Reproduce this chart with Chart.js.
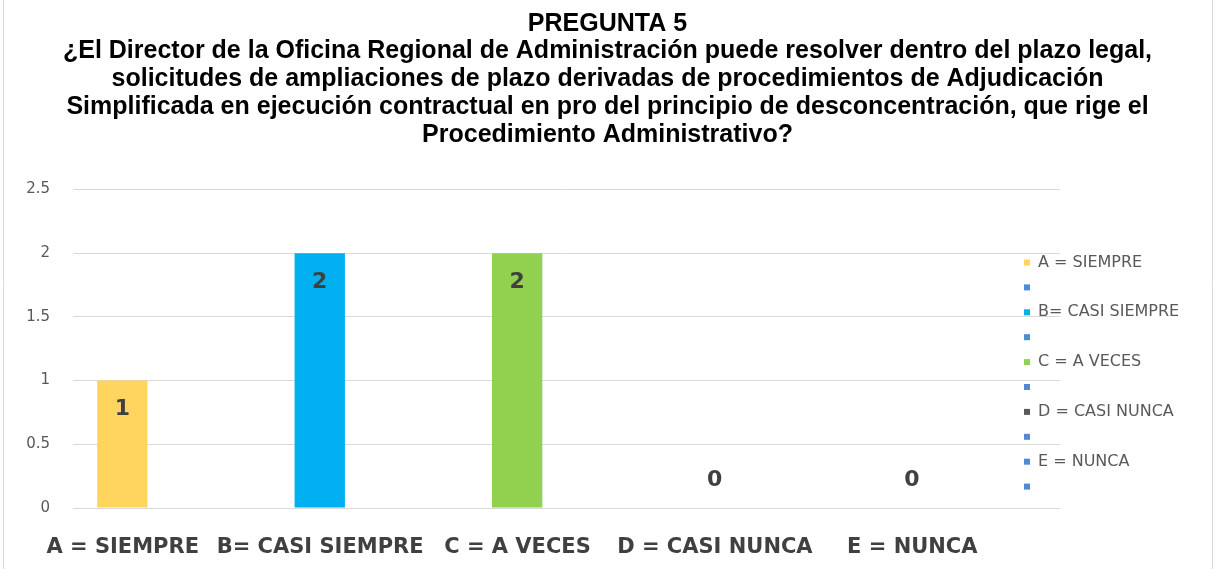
<!DOCTYPE html>
<html><head><meta charset="utf-8">
<script src="https://cdn.jsdelivr.net/npm/chart.js@4.4.1/dist/chart.umd.min.js"></script>
<style>html,body{margin:0;padding:0;background:#fff;} #wrap{width:1215px;height:569px;position:relative;}</style>
</head><body><div id="wrap"><canvas id="c" width="1215" height="569"></canvas></div>
<script>
const titleLines = [
  'PREGUNTA 5',
  '¿El Director de la Oficina Regional de Administración puede resolver dentro del plazo legal,',
  'solicitudes de ampliaciones de plazo derivadas de procedimientos de Adjudicación',
  'Simplificada en ejecución contractual en pro del principio de desconcentración, que rige el',
  'Procedimiento Administrativo?'
];
const categories = ['A = SIEMPRE', 'B= CASI SIEMPRE', 'C = A VECES', 'D = CASI NUNCA', 'E = NUNCA'];
const values = [1, 2, 2, 0, 0];
const blankValues = [null, null, null, null, null];
const yTicks = [0, 0.5, 1, 1.5, 2, 2.5];
const barColors = ['#FFD45F', '#00B0F0', '#92D050', '#595959', '#4F8AD2'];
const blankColor = '#4F8AD2';

const frame = {
  id: 'frame',
  beforeDraw(chart) {
    const ctx = chart.ctx;
    ctx.save();
    ctx.fillStyle = '#ffffff';
    ctx.fillRect(0, 0, chart.width, chart.height);
    ctx.strokeStyle = '#d9d9d9';
    ctx.lineWidth = 1;
    ctx.beginPath();
    ctx.moveTo(3.5, 0); ctx.lineTo(3.5, chart.height);
    ctx.moveTo(chart.width - 2.5, 0); ctx.lineTo(chart.width - 2.5, chart.height);
    ctx.stroke();
    ctx.restore();
  }
};

const valueLabels = {
  id: 'valueLabels',
  afterDatasetsDraw(chart) {
    const meta = chart.getDatasetMeta(0);
    const ctx = chart.ctx;
    ctx.save();
    ctx.font = 'bold 22px "DejaVu Sans"';
    ctx.fillStyle = '#404040';
    ctx.textAlign = 'center';
    ctx.textBaseline = 'middle';
    meta.data.forEach((el, i) => {
      const v = values[i];
      const y = v > 0 ? el.y + 29 : el.y - 28;
      ctx.fillText(String(v), el.x, y);
    });
    ctx.restore();
  }
};

const sideLegend = {
  id: 'sideLegend',
  afterDraw(chart) {
    const ctx = chart.ctx;
    const items = [];
    categories.forEach((c, i) => {
      items.push({ text: c, color: barColors[i] });
      items.push({ text: '', color: blankColor });
    });
    const x0 = chart.chartArea.right - 36;
    const y0 = chart.chartArea.top + 73;
    const step = 24.9;
    ctx.save();
    ctx.font = '16px "DejaVu Sans"';
    ctx.textBaseline = 'middle';
    ctx.textAlign = 'left';
    items.forEach((it, k) => {
      const y = y0 + k * step;
      ctx.fillStyle = it.color;
      ctx.fillRect(x0, y - 3, 6, 6);
      ctx.fillStyle = '#595959';
      ctx.fillText(it.text, x0 + 14, y);
    });
    ctx.restore();
  }
};

new Chart(document.getElementById('c'), {
  type: 'bar',
  data: {
    labels: categories,
    datasets: [
      { label: 'valores', data: values, backgroundColor: barColors, categoryPercentage: 1, barPercentage: 0.51 },
      { label: '', data: blankValues, backgroundColor: blankColor, categoryPercentage: 1, barPercentage: 0.51 }
    ]
  },
  options: {
    responsive: false,
    animation: false,
    devicePixelRatio: 1,
    layout: { padding: 0 },
    plugins: {
      legend: { display: false },
      tooltip: { enabled: false },
      title: {
        display: true,
        text: titleLines,
        color: '#000000',
        font: { family: 'Liberation Sans', size: 25, weight: 'bold', lineHeight: 1.108 },
        padding: { top: 10, bottom: 41 }
      }
    },
    scales: {
      x: {
        type: 'category',
        offset: true,
        grid: { display: false },
        border: { display: false },
        ticks: {
          color: '#404040',
          font: { family: 'DejaVu Sans', size: 21, weight: 'bold' },
          labelOffset: -49,
          padding: 19,
          maxRotation: 0,
          autoSkip: false
        },
        afterFit(s) { s.height = 61; }
      },
      y: {
        min: 0,
        max: 2.5,
        grid: { color: '#d9d9d9', drawTicks: false },
        border: { display: false },
        ticks: {
          color: '#595959',
          font: { family: 'DejaVu Sans', size: 15 },
          padding: 23,
          callback: (v) => String(v)
        },
        afterBuildTicks(s) { s.ticks = yTicks.map(v => ({ value: v })); },
        afterFit(s) { s.width = 73; }
      },
      rightSpace: {
        type: 'linear',
        position: 'right',
        display: true,
        grid: { display: false, drawOnChartArea: false },
        border: { display: false },
        ticks: { display: false },
        afterFit(s) { s.width = 155; }
      }
    }
  },
  plugins: [frame, valueLabels, sideLegend]
});
</script>
</body></html>
